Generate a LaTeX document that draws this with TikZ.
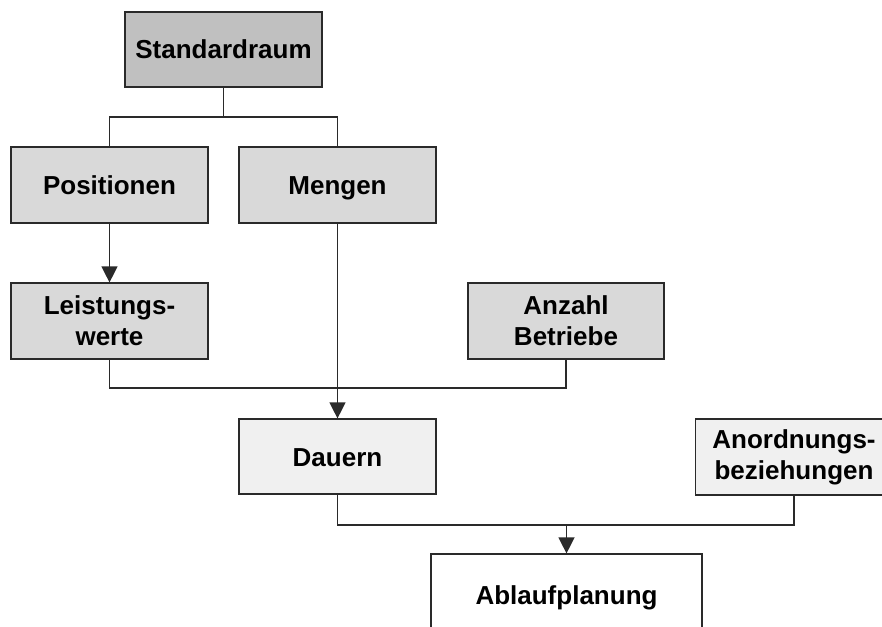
\documentclass[tikz,border=0pt]{standalone}
\usepackage{fontspec}
\setmainfont{Liberation Sans}
\usetikzlibrary{arrows.meta}
\definecolor{topfill}{HTML}{C0C0C0}
\definecolor{midfill}{HTML}{D9D9D9}
\definecolor{lowfill}{HTML}{F0F0F0}
\definecolor{edge}{HTML}{2A2A2A}
\begin{document}
\begin{tikzpicture}[x=1pt,y=-1pt,
  box/.style={draw=edge, line width=1.2pt, rectangle, align=center,
    minimum width=197pt, minimum height=76pt, inner sep=0pt,
    font=\fontsize{26}{31}\selectfont\bfseries},
  oneline/.style={text height=19pt, text depth=0pt},
  link/.style={draw=edge, line width=1.3pt},
  arr/.style={link, -{Triangle[width=16pt,length=16pt]}}]
\clip (0,0) rectangle (882,626);
\fill[white] (0,0) rectangle (882,626);

\node[box, oneline, fill=topfill, minimum height=75pt] (std) at (223.5,49.5) {Standardraum};
\node[box, oneline, fill=midfill] (pos) at (109.5,185) {Positionen};
\node[box, oneline, fill=midfill] (men) at (337.5,185) {Mengen};
\node[box, fill=midfill] (lw)  at (109.5,321) {Leistungs-\\werte};
\node[box, fill=midfill, minimum width=196pt] (anz) at (566,321) {Anzahl\\Betriebe};
\node[box, oneline, fill=lowfill, minimum height=75pt] (dau) at (337.5,456.5) {Dauern};
\node[box, fill=lowfill, minimum height=76pt] (ano) at (794,457) {Anordnungs-\\beziehungen};
\node[box, oneline, fill=white, minimum width=271pt, minimum height=82pt] (abl) at (566.5,595) {Ablaufplanung};

\coordinate (j1) at (223.5,117);
\coordinate (j2) at (337.5,388);
\coordinate (j3) at (566.5,525);

\draw[link] (std.south) -- (j1);
\draw[link] (pos.north) |- (j1) -| (men.north);
\draw[arr] (pos.south) -- (lw.north);
\draw[link] (lw.south) |- (j2) -| (anz.south);
\draw[arr] (men.south) -- (dau.north);
\draw[link] (dau.south) |- (j3) -| (ano.south);
\draw[arr] (j3) -- (abl.north);
\end{tikzpicture}
\end{document}
